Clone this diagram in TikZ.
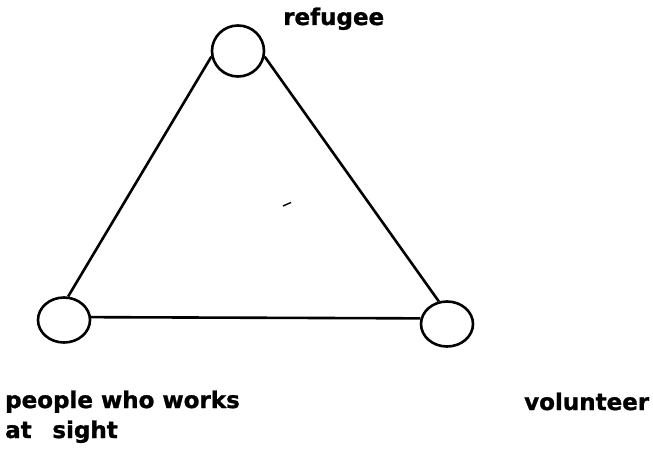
\documentclass[tikz,border=0pt]{standalone}
\usepackage{fontspec}
\setmainfont{DejaVu Sans}[BoldFeatures={FakeBold=1.2}]
\usetikzlibrary{shapes.geometric}
\begin{document}
\begin{tikzpicture}[x=1pt,y=-1pt,
  vert/.style={draw,ellipse,line width=2.6pt,minimum width=52pt,minimum height=45pt,inner sep=0pt},
  edge/.style={line width=2.6pt},
  lbl/.style={anchor=base west,inner sep=0pt,font=\fontsize{23}{30}\selectfont\bfseries}]
\useasboundingbox (0,0) rectangle (653,449);
\node[vert,minimum height=51pt] (r) at (238,51) {};
\node[vert] (p) at (64,320) {};
\node[vert] (v) at (447,324) {};
\draw[edge] (r.192) -- (p.80);
\draw[edge] (r.-12) -- (v.110);
\draw[edge] (p.6) -- (v.168);
\coordinate (m1) at (283,206);
\coordinate (m2) at (291,202.5);
\draw[line width=1.4pt] (m1) -- (m2);
\node[lbl] (tr) at (283,25) {refugee};
\node[lbl] (tp1) at (5,408) {people who works};
\node[lbl] (tp2) at (5,438) {at\hspace{0.9em}sight};
\node[lbl] (tv) at (524,410) {volunteer};
\end{tikzpicture}
\end{document}
